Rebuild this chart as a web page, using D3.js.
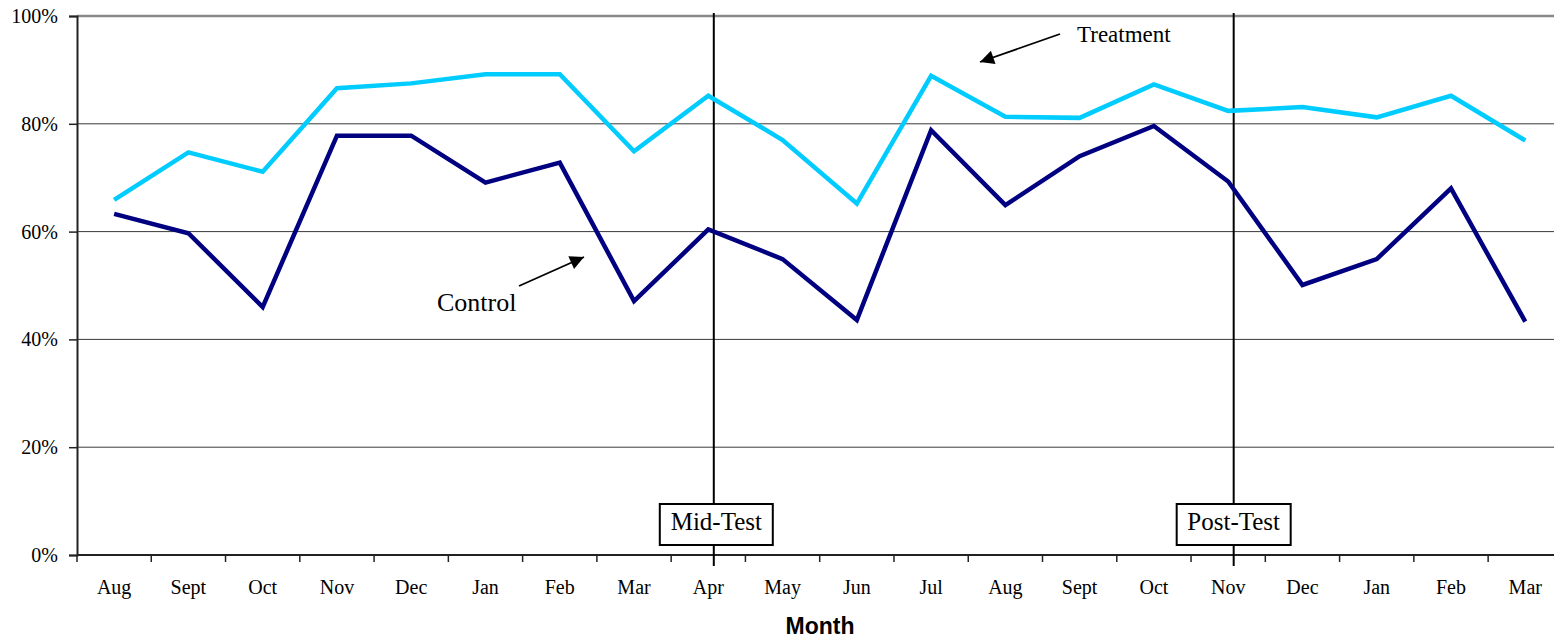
<!DOCTYPE html>
<html>
<head>
<meta charset="utf-8">
<script src="https://cdn.jsdelivr.net/npm/d3@7"></script>
<style>
  html, body { margin: 0; padding: 0; background: #fff; }
  svg { display: block; }
</style>
</head>
<body>
<svg id="chart" width="1554" height="641"></svg>
<script>
// Monthly percentages for the two groups
const months = ["Aug","Sept","Oct","Nov","Dec","Jan","Feb","Mar","Apr","May",
                "Jun","Jul","Aug","Sept","Oct","Nov","Dec","Jan","Feb","Mar"];
const treatment = [65.9, 74.7, 71.1, 86.6, 87.5, 89.2, 89.2, 74.9, 85.2, 77.0,
                   65.2, 88.9, 81.3, 81.1, 87.3, 82.4, 83.1, 81.2, 85.2, 76.9];
const control   = [63.3, 59.7, 46.0, 77.8, 77.8, 69.1, 72.8, 47.1, 60.4, 54.9,
                   43.6, 78.8, 64.9, 74.0, 79.6, 69.3, 50.1, 54.9, 68.0, 43.3];
const yTicks = [0, 20, 40, 60, 80, 100];
// Test phase markers: index of the month they fall on
const phases = [{ label: "Mid-Test", index: 8 }, { label: "Post-Test", index: 15 }];

(function () {
const svg = d3.select("#chart");
const plotLeft = 77, plotRight = 1562.4, plotTop = 16, plotBottom = 555;
const idx = d3.range(months.length);

const x = d3.scaleBand().domain(idx).range([plotLeft, plotRight]).padding(0);
const bw = x.bandwidth();
const cx = i => x(i) + bw / 2;
const y = d3.scaleLinear().domain([0, 100]).range([plotBottom, plotTop]);

const serif = "'Liberation Serif', 'Times New Roman', serif";

// Horizontal gridlines
svg.append("g")
  .selectAll("line")
  .data(yTicks.filter(t => t > 0 && t < 100))
  .join("line")
  .attr("x1", plotLeft).attr("x2", 1554)
  .attr("y1", d => y(d)).attr("y2", d => y(d))
  .attr("stroke", "#3a3a3a").attr("stroke-width", 1);

// Top border of plot area
svg.append("line")
  .attr("x1", plotLeft).attr("x2", 1554)
  .attr("y1", y(100)).attr("y2", y(100))
  .attr("stroke", "#888").attr("stroke-width", 2.5);

// Y axis
const yAxis = d3.axisLeft(y).tickValues(yTicks).tickFormat(d => d + "%").tickSize(8).tickPadding(11);
const gy = svg.append("g").attr("transform", `translate(${plotLeft},0)`).call(yAxis);
gy.select(".domain").attr("stroke", "#222").attr("stroke-width", 2);
gy.selectAll(".tick line").attr("stroke", "#222").attr("stroke-width", 1.5);
gy.selectAll(".tick text").attr("font-family", serif).attr("font-size", 20).attr("fill", "#000");

// X axis: ticks at band boundaries, labels centred in bands
svg.append("line")
  .attr("x1", plotLeft).attr("x2", 1554)
  .attr("y1", plotBottom).attr("y2", plotBottom)
  .attr("stroke", "#222").attr("stroke-width", 2);
svg.append("g")
  .selectAll("line")
  .data(d3.range(months.length + 1))
  .join("line")
  .attr("x1", i => plotLeft + i * bw).attr("x2", i => plotLeft + i * bw)
  .attr("y1", plotBottom).attr("y2", plotBottom + 7)
  .attr("stroke", "#222").attr("stroke-width", 1.5);
svg.append("g")
  .selectAll("text")
  .data(idx)
  .join("text")
  .attr("x", i => cx(i)).attr("y", 594)
  .attr("text-anchor", "middle")
  .attr("font-family", serif).attr("font-size", 20)
  .text(i => months[i]);

svg.append("text")
  .attr("x", 820).attr("y", 634)
  .attr("text-anchor", "middle")
  .attr("font-family", "'Liberation Sans', Arial, sans-serif")
  .attr("font-weight", "bold").attr("font-size", 23)
  .text("Month");

// Phase marker lines
const phaseX = p => cx(p.index) + 5.5;
svg.append("g")
  .selectAll("line")
  .data(phases)
  .join("line")
  .attr("x1", phaseX).attr("x2", phaseX)
  .attr("y1", 13).attr("y2", 566)
  .attr("stroke", "#000").attr("stroke-width", 2);

// Series lines
const line = d3.line().x((d, i) => cx(i)).y(d => y(d));
svg.append("path").datum(treatment)
  .attr("d", line).attr("fill", "none")
  .attr("stroke", "#00CCFF").attr("stroke-width", 4.5)
  .attr("stroke-linejoin", "miter");
svg.append("path").datum(control)
  .attr("d", line).attr("fill", "none")
  .attr("stroke", "#000080").attr("stroke-width", 4.5)
  .attr("stroke-linejoin", "miter");

// Phase labels in boxes
const boxes = svg.append("g").selectAll("g").data(phases).join("g")
  .attr("transform", p => `translate(${phaseX(p)},525)`);
boxes.append("rect")
  .attr("x", p => p.label === "Mid-Test" ? -54 : -57)
  .attr("width", p => p.label === "Mid-Test" ? 113 : 114)
  .attr("y", -21).attr("height", 41)
  .attr("fill", "#fff").attr("stroke", "#000").attr("stroke-width", 2);
boxes.append("text")
  .attr("x", p => p.label === "Mid-Test" ? 2.5 : 0)
  .attr("y", 5)
  .attr("text-anchor", "middle")
  .attr("font-family", serif).attr("font-size", 25)
  .text(p => p.label);

// Annotations with arrows
const defs = svg.append("defs");
defs.append("marker")
  .attr("id", "arrow")
  .attr("viewBox", "0 0 10 10")
  .attr("refX", 10).attr("refY", 5)
  .attr("markerWidth", 18).attr("markerHeight", 14)
  .attr("markerUnits", "userSpaceOnUse")
  .attr("orient", "auto")
  .append("path").attr("d", "M0,0 L10,5 L0,10 z").attr("fill", "#000");

svg.append("line")
  .attr("x1", 1060).attr("y1", 34).attr("x2", 980).attr("y2", 62)
  .attr("stroke", "#000").attr("stroke-width", 1.8)
  .attr("marker-end", "url(#arrow)");
svg.append("text")
  .attr("x", 1077).attr("y", 42)
  .attr("font-family", serif).attr("font-size", 23)
  .text("Treatment");

svg.append("line")
  .attr("x1", 519).attr("y1", 286).attr("x2", 584).attr("y2", 257)
  .attr("stroke", "#000").attr("stroke-width", 1.8)
  .attr("marker-end", "url(#arrow)");
svg.append("text")
  .attr("x", 437).attr("y", 311)
  .attr("font-family", serif).attr("font-size", 26)
  .text("Control");
})();
</script>
</body>
</html>
